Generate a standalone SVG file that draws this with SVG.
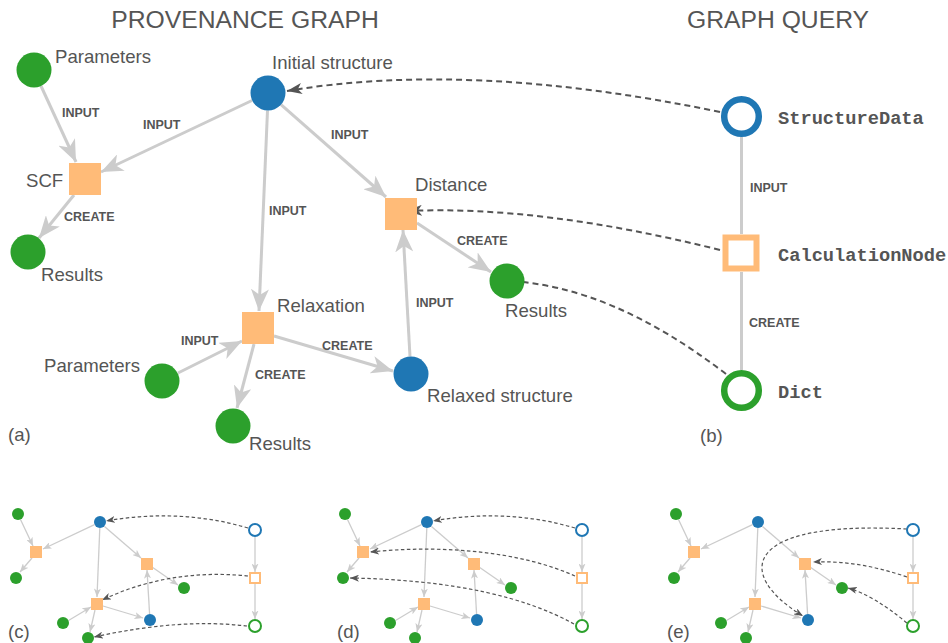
<svg xmlns="http://www.w3.org/2000/svg" width="948" height="643" viewBox="0 0 948 643">
<defs>
<style>
.title{font-family:"Liberation Sans",Arial,sans-serif;font-size:24.7px;fill:#555;text-anchor:middle}
.lbl{font-family:"Liberation Sans",Arial,sans-serif;font-size:18.6px;fill:#555}
.elbl{font-family:"Liberation Sans",Arial,sans-serif;font-size:12.5px;font-weight:bold;fill:#555}
.qlbl{font-family:"Liberation Mono","Courier New",monospace;font-size:18.7px;font-weight:bold;fill:#555}
.edge{stroke:#ccc;stroke-width:3;fill:none;marker-end:url(#ag)}
.qedge{stroke:#ccc;stroke-width:3;fill:none}
.dash{stroke:#555;stroke-width:2;stroke-dasharray:6 4;fill:none;marker-end:url(#ad)}
.sedge{stroke:#ccc;stroke-width:1.3;fill:none;marker-end:url(#ags)}
.sdash{stroke:#555;stroke-width:1.2;stroke-dasharray:3.5 2.5;fill:none;marker-end:url(#ads)}
.g{fill:#2ca02c}.b{fill:#1f77b4}.o{fill:#ffbb78}
.qb{fill:#fff;stroke:#1f77b4}.qo{fill:#fff;stroke:#ffbb78}.qg{fill:#fff;stroke:#2ca02c}
.big{stroke-width:6.5}.small{stroke-width:2}
</style>
<marker id="ag" markerUnits="userSpaceOnUse" viewBox="0 -9 22 18" refX="22" refY="0" markerWidth="22" markerHeight="18" orient="auto"><path d="M0,-9L22,0L0,9L6,0Z" fill="#ccc"/></marker>
<marker id="ags" markerUnits="userSpaceOnUse" viewBox="0 -3.5 8.5 7" refX="8.5" refY="0" markerWidth="8.5" markerHeight="7" orient="auto"><path d="M0,-3.5L8.5,0L0,3.5L2.2,0Z" fill="#ccc"/></marker>
<marker id="ad" markerUnits="userSpaceOnUse" viewBox="0 -5.5 15 11" refX="15" refY="0" markerWidth="15" markerHeight="11" orient="auto"><path d="M0,-5.5L15,0L0,5.5L4,0Z" fill="#555"/></marker>
<marker id="ads" markerUnits="userSpaceOnUse" viewBox="0 -3.5 9 7" refX="9" refY="0" markerWidth="9" markerHeight="7" orient="auto"><path d="M0,-3.5L9,0L0,3.5L2.5,0Z" fill="#555"/></marker>
</defs>
<rect width="948" height="643" fill="#fff"/>
<text class="title" x="245" y="28">PROVENANCE GRAPH</text>
<text class="title" x="778" y="28">GRAPH QUERY</text>

<g id="connectors-a">
<line class="edge" x1="41" y1="86" x2="76" y2="162"/>
<line class="edge" x1="252" y1="100.5" x2="101" y2="172"/>
<line class="edge" x1="74" y1="195" x2="39" y2="238"/>
<line class="edge" x1="281" y1="104.6" x2="386" y2="197"/>
<line class="edge" x1="267.5" y1="110.5" x2="259" y2="311"/>
<line class="edge" x1="417" y1="223" x2="491" y2="272"/>
<line class="edge" x1="410" y1="356.5" x2="403" y2="230"/>
<line class="edge" x1="178" y1="373" x2="242" y2="341"/>
<line class="edge" x1="254" y1="344" x2="237" y2="408"/>
<line class="edge" x1="274" y1="336" x2="393" y2="371"/>
<line class="qedge" x1="741.5" y1="137" x2="741.5" y2="234"/>
<line class="qedge" x1="741.5" y1="272" x2="741.5" y2="370"/>
<path class="dash" d="M720,112 Q470,60 287,91"/>
<path class="dash" d="M720,250 Q540,205 407,211"/>
<path class="dash" d="M726,374 Q610,285 507,281"/>
<text class="elbl" x="62" y="117">INPUT</text>
<text class="elbl" x="143" y="129">INPUT</text>
<text class="elbl" x="331" y="139">INPUT</text>
<text class="elbl" x="269" y="215">INPUT</text>
<text class="elbl" x="64" y="221">CREATE</text>
<text class="elbl" x="457" y="245">CREATE</text>
<text class="elbl" x="416" y="307">INPUT</text>
<text class="elbl" x="181" y="345">INPUT</text>
<text class="elbl" x="322" y="350">CREATE</text>
<text class="elbl" x="255" y="379">CREATE</text>
<text class="elbl" x="750" y="192">INPUT</text>
<text class="elbl" x="749" y="327">CREATE</text>
</g>

<g id="a-params1"><circle class="g" cx="34" cy="70" r="17.5"/><text class="lbl" x="55" y="63">Parameters</text></g>
<g id="a-initial"><circle class="b" cx="268" cy="93" r="17.5"/><text class="lbl" x="272" y="69">Initial structure</text></g>
<g id="a-scf"><rect class="o" x="69" y="163" width="32" height="32"/><text class="lbl" x="26" y="187">SCF</text></g>
<g id="a-results1"><circle class="g" cx="28" cy="252" r="17.5"/><text class="lbl" x="41" y="281">Results</text></g>
<g id="a-distance"><rect class="o" x="385" y="198" width="32" height="32"/><text class="lbl" x="415" y="191">Distance</text></g>
<g id="a-results2"><circle class="g" cx="507" cy="281" r="17.5"/><text class="lbl" x="505" y="317">Results</text></g>
<g id="a-relaxation"><rect class="o" x="242" y="312" width="32" height="32"/><text class="lbl" x="277" y="312">Relaxation</text></g>
<g id="a-params2"><circle class="g" cx="162" cy="381" r="17.5"/><text class="lbl" x="44" y="372">Parameters</text></g>
<g id="a-results3"><circle class="g" cx="233" cy="426" r="17.5"/><text class="lbl" x="249" y="450">Results</text></g>
<g id="a-relaxed"><circle class="b" cx="411" cy="374" r="17.5"/><text class="lbl" x="427" y="402">Relaxed structure</text></g>
<g id="b-structuredata"><circle class="qb big" cx="741.5" cy="116.5" r="17.3"/><text class="qlbl" x="778" y="124">StructureData</text></g>
<g id="b-calculationnode"><rect class="qo" x="725.5" y="237.5" width="31" height="31" stroke-width="6"/><text class="qlbl" x="778" y="261">CalculationNode</text></g>
<g id="b-dict"><circle class="qg big" cx="741.5" cy="390.5" r="17.3"/><text class="qlbl" x="778" y="398">Dict</text></g>
<text class="lbl" x="8" y="441">(a)</text>
<text class="lbl" x="700" y="442">(b)</text>

<g id="panel-c">
<g id="connectors-c">
<line class="sedge" x1="20.5" y1="519.5" x2="33" y2="546"/>
<line class="sedge" x1="94.5" y1="524.7" x2="43" y2="549"/>
<line class="sedge" x1="32" y1="558" x2="20" y2="572"/>
<line class="sedge" x1="104.5" y1="526.5" x2="141" y2="558"/>
<line class="sedge" x1="99.8" y1="528" x2="97" y2="597"/>
<line class="sedge" x1="152" y1="567" x2="178" y2="585"/>
<line class="sedge" x1="149.6" y1="614" x2="147" y2="570"/>
<line class="sedge" x1="68.5" y1="620.5" x2="91" y2="607"/>
<line class="sedge" x1="95" y1="610" x2="90" y2="632"/>
<line class="sedge" x1="103" y1="606" x2="143" y2="618"/>
<line class="sedge" x1="255" y1="537" x2="255" y2="572"/>
<line class="sedge" x1="255" y1="584" x2="255" y2="619"/>
<path class="sdash" d="M248,528 Q180,508 106,521"/>
<path class="sdash" d="M248,576 Q170,568 102,600"/>
<path class="sdash" d="M247,626 Q180,618 94,637"/>
</g>
<g id="c-params1"><circle class="g" cx="18" cy="514" r="6"/></g>
<g id="c-initial"><circle class="b" cx="100" cy="522" r="6"/></g>
<g id="c-scf"><rect class="o" x="30" y="546" width="12" height="12"/></g>
<g id="c-results1"><circle class="g" cx="16" cy="578" r="6"/></g>
<g id="c-distance"><rect class="o" x="141" y="558" width="12" height="12"/></g>
<g id="c-results2"><circle class="g" cx="184" cy="588" r="6"/></g>
<g id="c-relaxation"><rect class="o" x="91" y="598" width="12" height="12"/></g>
<g id="c-params2"><circle class="g" cx="63" cy="623" r="6"/></g>
<g id="c-results3"><circle class="g" cx="88" cy="638" r="6"/></g>
<g id="c-relaxed"><circle class="b" cx="150" cy="620" r="6"/></g>
<g id="c-structuredata"><circle class="qb small" cx="255" cy="530" r="6"/></g>
<g id="c-calculationnode"><rect class="qo small" x="250" y="573" width="10" height="10"/></g>
<g id="c-dict"><circle class="qg small" cx="255" cy="626" r="6"/></g>
<text class="lbl" x="8" y="638">(c)</text>
</g>

<g id="panel-d" transform="translate(327,0)">
<g id="connectors-d">
<line class="sedge" x1="20.5" y1="519.5" x2="33" y2="546"/>
<line class="sedge" x1="94.5" y1="524.7" x2="43" y2="549"/>
<line class="sedge" x1="32" y1="558" x2="20" y2="572"/>
<line class="sedge" x1="104.5" y1="526.5" x2="141" y2="558"/>
<line class="sedge" x1="99.8" y1="528" x2="97" y2="597"/>
<line class="sedge" x1="152" y1="567" x2="178" y2="585"/>
<line class="sedge" x1="149.6" y1="614" x2="147" y2="570"/>
<line class="sedge" x1="68.5" y1="620.5" x2="91" y2="607"/>
<line class="sedge" x1="95" y1="610" x2="90" y2="632"/>
<line class="sedge" x1="103" y1="606" x2="143" y2="618"/>
<line class="sedge" x1="255" y1="537" x2="255" y2="572"/>
<line class="sedge" x1="255" y1="584" x2="255" y2="619"/>
<path class="sdash" d="M248,528 Q180,508 106,521"/>
<path class="sdash" d="M248,576 C190,550 110,545 43,552"/>
<path class="sdash" d="M247,624 C200,598 130,580 23,578"/>
</g>
<g id="d-params1"><circle class="g" cx="18" cy="514" r="6"/></g>
<g id="d-initial"><circle class="b" cx="100" cy="522" r="6"/></g>
<g id="d-scf"><rect class="o" x="30" y="546" width="12" height="12"/></g>
<g id="d-results1"><circle class="g" cx="16" cy="578" r="6"/></g>
<g id="d-distance"><rect class="o" x="141" y="558" width="12" height="12"/></g>
<g id="d-results2"><circle class="g" cx="184" cy="588" r="6"/></g>
<g id="d-relaxation"><rect class="o" x="91" y="598" width="12" height="12"/></g>
<g id="d-params2"><circle class="g" cx="63" cy="623" r="6"/></g>
<g id="d-results3"><circle class="g" cx="88" cy="638" r="6"/></g>
<g id="d-relaxed"><circle class="b" cx="150" cy="620" r="6"/></g>
<g id="d-structuredata"><circle class="qb small" cx="255" cy="530" r="6"/></g>
<g id="d-calculationnode"><rect class="qo small" x="250" y="573" width="10" height="10"/></g>
<g id="d-dict"><circle class="qg small" cx="255" cy="626" r="6"/></g>
<text class="lbl" x="10" y="638">(d)</text>
</g>

<g id="panel-e" transform="translate(658,0)">
<g id="connectors-e">
<line class="sedge" x1="20.5" y1="519.5" x2="33" y2="546"/>
<line class="sedge" x1="94.5" y1="524.7" x2="43" y2="549"/>
<line class="sedge" x1="32" y1="558" x2="20" y2="572"/>
<line class="sedge" x1="104.5" y1="526.5" x2="141" y2="558"/>
<line class="sedge" x1="99.8" y1="528" x2="97" y2="597"/>
<line class="sedge" x1="152" y1="567" x2="178" y2="585"/>
<line class="sedge" x1="149.6" y1="614" x2="147" y2="570"/>
<line class="sedge" x1="68.5" y1="620.5" x2="91" y2="607"/>
<line class="sedge" x1="95" y1="610" x2="90" y2="632"/>
<line class="sedge" x1="103" y1="606" x2="143" y2="618"/>
<line class="sedge" x1="255" y1="537" x2="255" y2="572"/>
<line class="sedge" x1="255" y1="584" x2="255" y2="619"/>
<path class="sdash" d="M249,529 C82,520 77,575 145,616"/>
<path class="sdash" d="M249,577 Q200,560 155,562"/>
<path class="sdash" d="M249,623 Q215,595 190,588"/>
</g>
<g id="e-params1"><circle class="g" cx="18" cy="514" r="6"/></g>
<g id="e-initial"><circle class="b" cx="100" cy="522" r="6"/></g>
<g id="e-scf"><rect class="o" x="30" y="546" width="12" height="12"/></g>
<g id="e-results1"><circle class="g" cx="16" cy="578" r="6"/></g>
<g id="e-distance"><rect class="o" x="141" y="558" width="12" height="12"/></g>
<g id="e-results2"><circle class="g" cx="184" cy="588" r="6"/></g>
<g id="e-relaxation"><rect class="o" x="91" y="598" width="12" height="12"/></g>
<g id="e-params2"><circle class="g" cx="63" cy="623" r="6"/></g>
<g id="e-results3"><circle class="g" cx="88" cy="638" r="6"/></g>
<g id="e-relaxed"><circle class="b" cx="150" cy="620" r="6"/></g>
<g id="e-structuredata"><circle class="qb small" cx="255" cy="530" r="6"/></g>
<g id="e-calculationnode"><rect class="qo small" x="250" y="573" width="10" height="10"/></g>
<g id="e-dict"><circle class="qg small" cx="255" cy="626" r="6"/></g>
<text class="lbl" x="9" y="638">(e)</text>
</g>
</svg>
